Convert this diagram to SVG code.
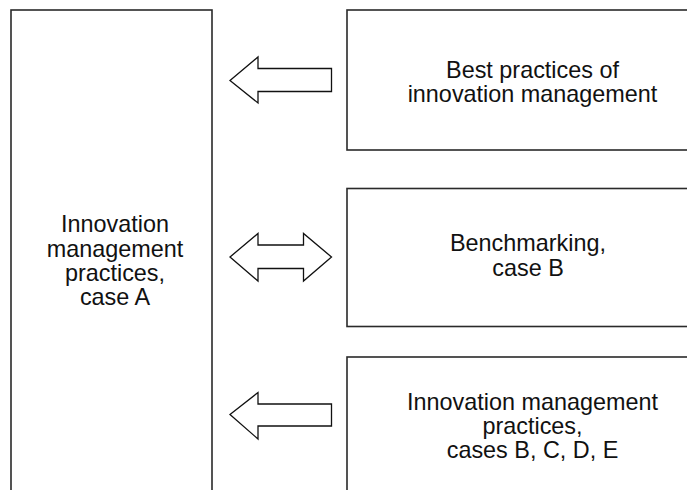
<svg xmlns="http://www.w3.org/2000/svg" width="687" height="490" viewBox="0 0 687 490">
  <style>
    .box { fill: #ffffff; stroke: #2a2a2a; stroke-width: 1.6; }
    .arrow { fill: #ffffff; stroke: #111111; stroke-width: 1.3; stroke-linejoin: miter; }
    .label { font-family: "Liberation Sans", Arial, sans-serif; font-size: 23.4px; fill: #111111; text-anchor: middle; }
  </style>
  <rect width="687" height="490" fill="#ffffff"/>

  <g id="case-a">
    <rect class="box" x="11" y="10" width="201" height="500"/>
    <text class="label" x="115" y="232">Innovation</text>
    <text class="label" x="115" y="256.5">management</text>
    <text class="label" x="115" y="281">practices,</text>
    <text class="label" x="115" y="305">case A</text>
  </g>

  <g id="best-practices">
    <rect class="box" x="347" y="10" width="380" height="140"/>
    <text class="label" x="532.5" y="78">Best practices of</text>
    <text class="label" x="532.5" y="102">innovation management</text>
  </g>

  <g id="benchmarking">
    <rect class="box" x="347" y="188.5" width="380" height="138"/>
    <text class="label" x="528" y="251">Benchmarking,</text>
    <text class="label" x="528" y="276">case B</text>
  </g>

  <g id="cases-bcde">
    <rect class="box" x="347" y="357" width="380" height="160"/>
    <text class="label" x="532.5" y="410">Innovation management</text>
    <text class="label" x="532.5" y="434">practices,</text>
    <text class="label" x="532.5" y="458">cases B, C, D, E</text>
  </g>

  <g id="connectors">
    <polygon class="arrow" points="230,80.5 258,57 258,68.5 331.5,68.5 331.5,91.5 258,91.5 258,103"/>
    <polygon class="arrow" points="230,257 258,233.5 258,245 303.5,245 303.5,233.5 331.5,257 303.5,281 303.5,268.5 258,268.5 258,281"/>
    <polygon class="arrow" points="230,414.5 258,392.5 258,404 331.5,404 331.5,426 258,426 258,439"/>
  </g>
</svg>
